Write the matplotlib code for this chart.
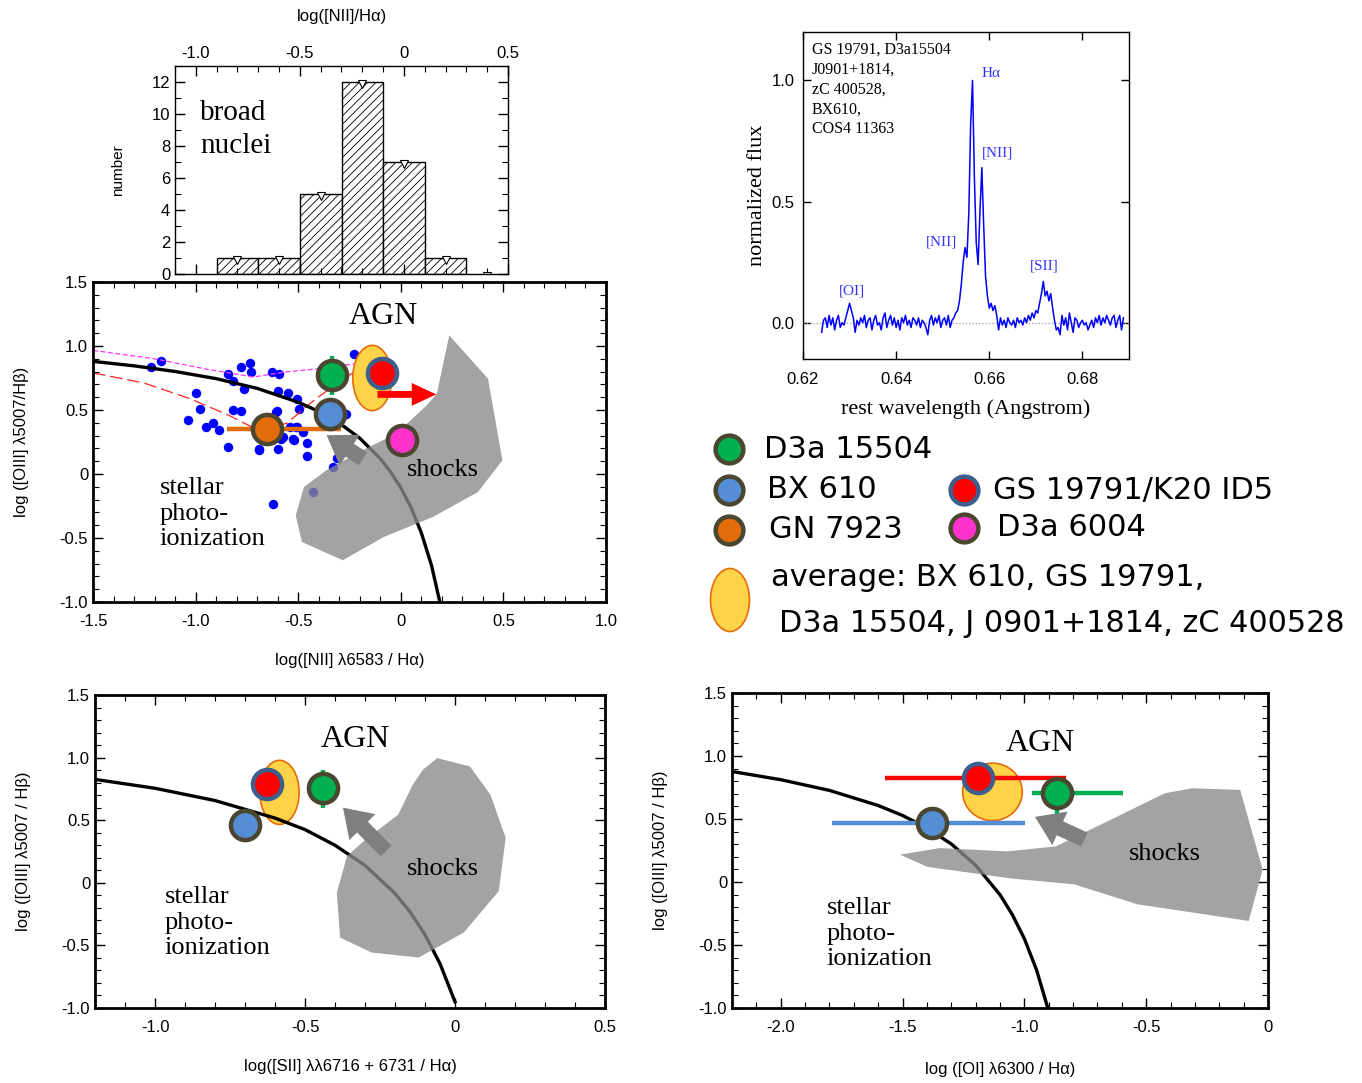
import numpy as np
import matplotlib.pyplot as plt
from matplotlib.patches import Ellipse, Polygon, FancyArrowPatch
from matplotlib.ticker import MultipleLocator

plt.rcParams['axes.unicode_minus'] = False
plt.rcParams['font.family'] = ['Liberation Sans', 'DejaVu Sans']
plt.rcParams['hatch.linewidth'] = 0.6
SERIF = ['Liberation Serif', 'DejaVu Serif']

# ── histogram of broad nuclei ────────────────────────────────────────────────
hist_left = [-0.9, -0.7, -0.5, -0.3, -0.1, 0.1]
hist_counts = [1, 1, 5, 12, 7, 1]
hist_mark_x = [-0.8, -0.6, -0.4, -0.2, 0.0, 0.2, 0.4]
hist_mark_y = [1, 1, 5, 12, 7, 1, 0]

# ── stacked spectrum ─────────────────────────────────────────────────────────
spec_flux = [
    -0.04, 0.01, 0.02, -0.02, 0.03, -0.01, 0.02, -0.03, 0.01, 0.03,
    -0.02, 0.00, -0.01, 0.02, 0.05, 0.08, 0.05, 0.02, -0.04, 0.01,
    -0.01, 0.02, 0.00, 0.03, -0.02, 0.01, 0.02, -0.03, 0.01, 0.03,
    -0.01, 0.00, -0.03, 0.02, 0.04, -0.02, 0.01, 0.03, -0.01, 0.02,
    -0.02, 0.01, -0.03, 0.02, 0.00, 0.03, -0.01, 0.01, -0.02, 0.02,
    0.01, -0.01, 0.02, -0.02, 0.01, 0.00, -0.02, -0.05, 0.01, 0.03,
    -0.01, 0.02, 0.00, 0.03, -0.02, 0.01, 0.02, -0.01, 0.03, -0.02,
    0.01, 0.02, 0.04, 0.05, 0.09, 0.16, 0.25, 0.31, 0.27, 0.45,
    0.82, 1.00, 0.60, 0.33, 0.24, 0.46, 0.64, 0.40, 0.19, 0.11,
    0.06, 0.08, 0.05, 0.07, 0.03, -0.03, 0.02, -0.01, 0.01, -0.02,
    0.02, 0.00, -0.01, 0.01, -0.02, 0.02, 0.00, 0.01, -0.01, 0.02,
    0.00, 0.03, 0.01, 0.04, 0.02, 0.05, 0.04, 0.08, 0.12, 0.17,
    0.11, 0.13, 0.09, 0.12, 0.06, 0.01, -0.03, -0.02, -0.05, 0.03,
    -0.01, 0.02, -0.03, 0.04, 0.00, -0.04, 0.02, 0.01, -0.02, 0.00,
    0.01, -0.01, 0.00, -0.03, -0.01, 0.01, -0.02, 0.02, 0.00, 0.03,
    -0.01, 0.02, 0.00, 0.03, 0.01, -0.01, 0.02, 0.03, -0.02, 0.01,
    0.03, -0.03, 0.02]
spec_wl = np.linspace(0.6240, 0.6888, len(spec_flux))
spec_lines = ['H\u03b1', '[NII]', '[NII]', '[SII]', '[OI]']
spec_line_x = [0.6603, 0.6618, 0.6497, 0.6718, 0.6306]
spec_line_y = [1.03, 0.70, 0.335, 0.232, 0.132]
spec_names = 'GS 19791, D3a15504\nJ0901+1814,\nzC 400528,\nBX610,\nCOS4 11363'

# ── BPT: [NII] ───────────────────────────────────────────────────────────────
kew_nii_x = [-1.5, -1.3, -1.1, -0.9, -0.7, -0.5, -0.4, -0.3, -0.2, -0.1,
             -0.05, 0.0, 0.05, 0.1, 0.15, 0.2]
kew_nii_y = [0.880, 0.845, 0.801, 0.745, 0.669, 0.561, 0.489, 0.398, 0.280,
             0.120, 0.017, -0.108, -0.262, -0.459, -0.716, -1.069]
mag_x = [-1.5, -1.2, -0.95, -0.72, -0.56, -0.40, -0.22, -0.10]
mag_y = [0.966, 0.90, 0.82, 0.758, 0.797, 0.823, 0.862, 0.909]
red_x = [-1.5, -1.25, -1.03, -0.84, -0.73, -0.65, -0.556, -0.42, -0.264, -0.14]
red_y = [0.79, 0.71, 0.59, 0.46, 0.37, 0.36, 0.396, 0.58, 0.76, 0.88]

dots_x = [-1.219, -1.169, -0.998, -0.979, -1.039, -0.951, -0.914, -0.886,
          -0.844, -0.844, -0.819, -0.779, -0.735, -0.730, -0.766, -0.816,
          -0.779, -0.691, -0.626, -0.592, -0.597, -0.551, -0.507, -0.496,
          -0.605, -0.597, -0.576, -0.524, -0.540, -0.511, -0.475, -0.459,
          -0.457, -0.332, -0.311, -0.429, -0.625, -0.227, -0.267, -0.666,
          -0.606, -0.582, -0.522, -0.506, -0.658, -0.692]
dots_y = [0.833, 0.880, 0.635, 0.510, 0.422, 0.365, 0.401, 0.344,
          0.213, 0.779, 0.727, 0.838, 0.865, 0.794, 0.664, 0.500,
          0.495, 0.195, 0.800, 0.779, 0.646, 0.630, 0.583, 0.510,
          0.492, 0.195, 0.287, 0.273, 0.370, 0.365, 0.326, 0.240,
          0.143, 0.052, 0.127, -0.143, -0.237, 0.940, 0.466, 0.420,
          0.484, 0.276, 0.263, 0.367, 0.263, 0.190]

shock_nii_x = [0.236, 0.425, 0.495, 0.376, 0.156, -0.083, -0.283, -0.482,
               -0.512, -0.472, -0.363, -0.203, -0.023, 0.126, 0.176]
shock_nii_y = [1.083, 0.745, 0.107, -0.141, -0.336, -0.492, -0.674, -0.531,
               -0.323, -0.102, 0.029, 0.172, 0.315, 0.536, 0.628]

# ── BPT: [SII] ───────────────────────────────────────────────────────────────
kew_sii_x = [-1.2, -1.0, -0.8, -0.6, -0.5, -0.4, -0.3, -0.2, -0.15, -0.1, -0.05, 0.0]
kew_sii_y = [0.826, 0.755, 0.657, 0.517, 0.425, 0.300, 0.139, -0.085, -0.232,
             -0.414, -0.646, -0.95]
shock_sii_x = [-0.059, 0.050, 0.118, 0.169, 0.146, 0.029, -0.121, -0.278,
               -0.383, -0.394, -0.360, -0.298, -0.189, -0.141, -0.107]
shock_sii_y = [0.996, 0.929, 0.704, 0.359, -0.066, -0.398, -0.597, -0.557,
               -0.437, -0.079, 0.213, 0.346, 0.545, 0.783, 0.903]

# ── BPT: [OI] ────────────────────────────────────────────────────────────────
kew_oi_x = [-2.2, -2.0, -1.8, -1.6, -1.5, -1.4, -1.3, -1.2, -1.1, -1.05, -1.0, -0.95, -0.9]
kew_oi_y = [0.877, 0.812, 0.727, 0.607, 0.528, 0.429, 0.302, 0.133, -0.101,
            -0.257, -0.450, -0.698, -1.025]
shock_oi_x = [-1.510, -1.347, -1.071, -0.872, -0.674, -0.424, -0.312, -0.114,
              -0.022, -0.079, -0.536, -0.795, -1.053, -1.398]
shock_oi_y = [0.217, 0.269, 0.243, 0.282, 0.467, 0.704, 0.744, 0.731,
              0.099, -0.309, -0.177, -0.019, 0.028, 0.120]

# ── individual objects ───────────────────────────────────────────────────────
obj_names = ['D3a 15504', 'BX 610', 'GN 7923', 'GS 19791/K20 ID5', 'D3a 6004']
obj_face = ['#00b050', '#558ed5', '#e36c0a', '#ff0000', '#ff33cc']
obj_edge = ['#4a4630', '#4a4630', '#4a4630', '#3c5f8e', '#4a4630']
nan = np.nan
nii_x = [-0.333, -0.343, -0.652, -0.093, 0.006]
nii_y = [0.771, 0.466, 0.354, 0.792, 0.263]
nii_xerr = [(0, 0), (0, 0), (0.194, 0.359), (0, 0), (0, 0)]
nii_yerr = [(0.15, 0.15), (0, 0), (0, 0), (0, 0), (0, 0)]
sii_x = [-0.439, -0.699, nan, -0.626, nan]
sii_y = [0.757, 0.465, nan, 0.791, nan]
sii_xerr = [(0, 0)] * 5
sii_yerr = [(0.159, 0.146), (0, 0), (0, 0), (0, 0), (0, 0)]
oi_x = [-0.867, -1.381, nan, -1.191, nan]
oi_y = [0.710, 0.468, nan, 0.823, nan]
oi_xerr = [(0.10, 0.271), (0.41, 0.383), (0, 0), (0.38, 0.362), (0, 0)]
oi_yerr = [(0.172, 0.05), (0, 0), (0, 0), (0, 0), (0, 0)]

# average ellipses: (x, y, width, height)
nii_avg = (-0.139, 0.75, 0.19, 0.51)
sii_avg = (-0.585, 0.722, 0.131, 0.512)
oi_avg = (-1.131, 0.715, 0.245, 0.456)

# arrows: (tail, head)
nii_grey_arrow = ((-0.173, 0.107), (-0.373, 0.315))
nii_red_arrow = ((-0.127, 0.622), (0.186, 0.622))
sii_grey_arrow = ((-0.223, 0.239), (-0.380, 0.616))
oi_grey_arrow = ((-0.743, 0.328), (-0.967, 0.526))

W, H = 1362, 1083
fig = plt.figure(figsize=(W / 100, H / 100), dpi=100)


def px_axes(l, t, r, b):
    return fig.add_axes([l / W, (H - b) / H, (r - l) / W, (b - t) / H])


def style(ax, lw=1.0):
    for s in ax.spines.values():
        s.set_linewidth(lw)
    ax.tick_params(which='both', direction='in', top=True, right=True)
    ax.tick_params(which='major', length=7, width=1, labelsize=12)
    ax.tick_params(which='minor', length=4, width=0.8)


def grey_arrow(ax, arr, color='#7f7f7f', style_='simple,head_width=2.4,head_length=1.8,tail_width=1.0'):
    ax.add_patch(FancyArrowPatch(arr[0], arr[1], arrowstyle=style_, mutation_scale=11,
                                 color=color, lw=0, zorder=7))


def bpt_panel(ax, xlim, xticks, xlabels, kx, ky, sx, sy, px, py, pxerr, pyerr, avg):
    ax.set_xlim(*xlim)
    ax.set_ylim(-1.0, 1.5)
    ax.set_xticks(xticks, xlabels)
    ax.set_yticks([-1.0, -0.5, 0, 0.5, 1.0, 1.5], ['-1.0', '-0.5', '0', '0.5', '1.0', '1.5'])
    ax.xaxis.set_minor_locator(MultipleLocator(0.1))
    ax.yaxis.set_minor_locator(MultipleLocator(0.1))
    style(ax, lw=2.0)
    ax.tick_params(axis='x', which='major', pad=9)
    ax.add_patch(Ellipse((avg[0], avg[1]), avg[2], avg[3], facecolor='#ffd347',
                         edgecolor='#e46c0a', lw=1.2, zorder=2.5))
    ax.plot(kx, ky, color='black', lw=2.4, zorder=3)
    ax.add_patch(Polygon(np.column_stack([sx, sy]), closed=True, facecolor='#8a8a8a',
                         edgecolor='none', alpha=0.78, zorder=3.5))
    for i in range(len(px)):
        if np.isnan(px[i]):
            continue
        xe, ye = pxerr[i], pyerr[i]
        if sum(xe) > 0 or sum(ye) > 0:
            ax.errorbar(px[i], py[i], xerr=[[xe[0]], [xe[1]]], yerr=[[ye[0]], [ye[1]]],
                        fmt='none', ecolor=obj_face[i], elinewidth=3.2, capsize=0, zorder=5)
        ax.plot(px[i], py[i], 'o', ms=21, mfc=obj_face[i], mec=obj_edge[i], mew=3.2, zorder=6)


# ── histogram panel ──────────────────────────────────────────────────────────
axh = px_axes(175, 66, 508, 274)
axh.bar(hist_left, hist_counts, width=0.2, align='edge', facecolor='white',
        edgecolor='black', lw=1.0, hatch='////')
axh.plot(hist_mark_x, np.array(hist_mark_y) - 0.12, 'v', ms=6, mfc='white', mec='black',
         mew=0.8, clip_on=True)
axh.set_xlim(-1.1, 0.5)
axh.set_ylim(0, 13)
axh.set_xticks([-1.0, -0.5, 0, 0.5], ['-1.0', '-0.5', '0', '0.5'])
axh.set_yticks(range(0, 13, 2))
axh.xaxis.set_minor_locator(MultipleLocator(0.1))
axh.yaxis.set_minor_locator(MultipleLocator(1))
style(axh, lw=1.0)
axh.tick_params(labeltop=True, labelbottom=False)
axh.xaxis.set_label_position('top')
axh.set_xlabel('log([NII]/H\u03b1)', fontsize=12, labelpad=18)
axh.set_ylabel('number', fontsize=11, labelpad=19)
axh.text(-0.98, 9.05, 'broad\nnuclei', family=SERIF, fontsize=21, va='center', ha='left',
         linespacing=1.35)

# ── spectrum panel ───────────────────────────────────────────────────────────
axs = px_axes(803, 32, 1129, 359)
axs.axhline(0, color='#999999', ls=':', lw=0.9)
axs.plot(spec_wl, spec_flux, color='#0000ff', lw=1.1)
axs.set_xlim(0.62, 0.69)
axs.set_ylim(-0.15, 1.2)
axs.set_xticks([0.62, 0.64, 0.66, 0.68], ['0.62', '0.64', '0.66', '0.68'])
axs.set_yticks([0, 0.5, 1.0], ['0.0', '0.5', '1.0'])
style(axs, lw=1.0)
axs.tick_params(which='major', length=6)
axs.tick_params(axis='x', which='major', pad=9)
axs.tick_params(axis='y', which='major', pad=6)
axs.set_xlabel('rest wavelength (Angstrom)', family=SERIF, fontsize=16, labelpad=9)
axs.set_ylabel('normalized flux', family=SERIF, fontsize=16, labelpad=3)
for lab, lx, ly in zip(spec_lines, spec_line_x, spec_line_y):
    axs.text(lx, ly, lab, family=SERIF, fontsize=11, color='#3333ff', ha='center', va='center')
axs.text(0.027, 0.97, spec_names, transform=axs.transAxes, family=SERIF, fontsize=11.5,
         va='top', ha='left', linespacing=1.32)

# ── [NII] BPT ────────────────────────────────────────────────────────────────
axn = px_axes(93, 282, 606, 602)
axn.plot(dots_x, dots_y, 'o', color='#0000ff', ms=6.8, mew=0, zorder=2)
axn.plot(mag_x, mag_y, color='#ff33ff', ls=(0, (4, 2)), lw=0.9, zorder=2.2)
axn.plot(red_x, red_y, color='#ff2222', ls=(0, (10, 4)), lw=0.9, zorder=2.2)
bpt_panel(axn, (-1.5, 1.0), [-1.5, -1.0, -0.5, 0, 0.5, 1.0],
          ['-1.5', '-1.0', '-0.5', '0', '0.5', '1.0'], kew_nii_x, kew_nii_y,
          shock_nii_x, shock_nii_y, nii_x, nii_y, nii_xerr, nii_yerr, nii_avg)
grey_arrow(axn, nii_grey_arrow)
grey_arrow(axn, nii_red_arrow, color='#ff0000',
           style_='simple,head_width=1.5,head_length=1.6,tail_width=0.45')
axn.set_xlabel('log([NII] \u03bb6583 / H\u03b1)', fontsize=12, labelpad=17)
axn.set_ylabel('log ([OIII] \u03bb5007/H\u03b2)', fontsize=12, labelpad=22)
axn.text(-0.083, 1.227, 'AGN', family=SERIF, fontsize=23, ha='center', va='center', zorder=8)
axn.text(0.206, 0.029, 'shocks', family=SERIF, fontsize=19, ha='center', va='center', zorder=8)
axn.text(-1.175, -0.31, 'stellar\nphoto-\nionization', family=SERIF, fontsize=19,
         ha='left', va='center', linespacing=1.2, zorder=8)

# ── [SII] BPT ────────────────────────────────────────────────────────────────
axsii = px_axes(95, 695, 605, 1008)
bpt_panel(axsii, (-1.2, 0.5), [-1.0, -0.5, 0, 0.5], ['-1.0', '-0.5', '0', '0.5'],
          kew_sii_x, kew_sii_y, shock_sii_x, shock_sii_y, sii_x, sii_y,
          sii_xerr, sii_yerr, sii_avg)
grey_arrow(axsii, sii_grey_arrow)
axsii.set_xlabel('log([SII] \u03bb\u03bb6716 + 6731 / H\u03b1)', fontsize=12, labelpad=17)
axsii.set_ylabel('log ([OIII] \u03bb5007 / H\u03b2)', fontsize=12, labelpad=22)
axsii.text(-0.333, 1.142, 'AGN', family=SERIF, fontsize=23, ha='center', va='center', zorder=8)
axsii.text(-0.042, 0.107, 'shocks', family=SERIF, fontsize=19, ha='center', va='center', zorder=8)
axsii.text(-0.968, -0.318, 'stellar\nphoto-\nionization', family=SERIF, fontsize=19,
           ha='left', va='center', linespacing=1.2, zorder=8)

# ── [OI] BPT ─────────────────────────────────────────────────────────────────
axo = px_axes(732, 693, 1268, 1008)
bpt_panel(axo, (-2.2, 0.0), [-2.0, -1.5, -1.0, -0.5, 0], ['-2.0', '-1.5', '-1.0', '-0.5', '0'],
          kew_oi_x, kew_oi_y, shock_oi_x, shock_oi_y, oi_x, oi_y, oi_xerr, oi_yerr, oi_avg)
grey_arrow(axo, oi_grey_arrow)
axo.set_xlabel('log ([OI] \u03bb6300 / H\u03b1)', fontsize=12, labelpad=19)
axo.set_ylabel('log ([OIII] \u03bb5007 / H\u03b2)', fontsize=12, labelpad=22)
axo.text(-0.933, 1.10, 'AGN', family=SERIF, fontsize=23, ha='center', va='center', zorder=8)
axo.text(-0.424, 0.222, 'shocks', family=SERIF, fontsize=19, ha='center', va='center', zorder=8)
axo.text(-1.812, -0.41, 'stellar\nphoto-\nionization', family=SERIF, fontsize=19,
         ha='left', va='center', linespacing=1.2, zorder=8)

# ── legend (figure pixel coordinates) ────────────────────────────────────────
axl = fig.add_axes([0, 0, 1, 1])
axl.set_xlim(0, W)
axl.set_ylim(H, 0)
axl.axis('off')
leg_pos = [(729, 449, 764), (729, 490, 767), (729, 530, 769), (964, 490, 993), (964, 528, 997)]
for i, (cx, cy, tx) in enumerate(leg_pos):
    axl.plot(cx, cy, 'o', ms=20, mfc=obj_face[i], mec=obj_edge[i], mew=3.2)
    axl.text(tx, cy, obj_names[i], fontsize=22, family=['DejaVu Sans'], va='center', ha='left')
axl.add_patch(Ellipse((730, 600), 39, 63, facecolor='#ffd347', edgecolor='#e46c0a', lw=1.2))
axl.text(771, 578, 'average: BX 610, GS 19791,', fontsize=22, family=['DejaVu Sans'],
         va='center', ha='left')
axl.text(779, 624, 'D3a 15504, J 0901+1814, zC 400528', fontsize=21.8, family=['DejaVu Sans'],
         va='center', ha='left')

fig.savefig('out.png', dpi=100)
